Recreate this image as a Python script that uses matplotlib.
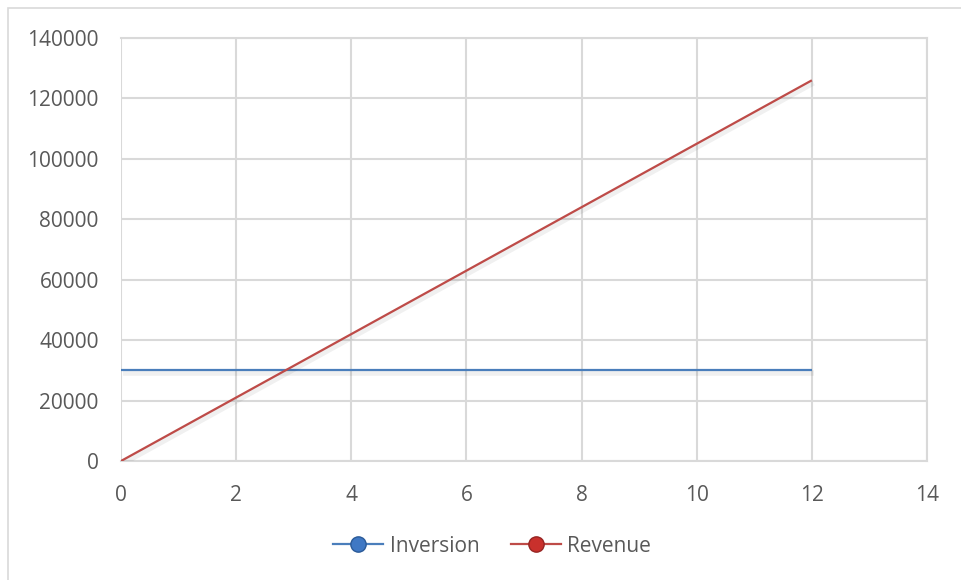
import matplotlib
matplotlib.use("Agg")
import matplotlib.pyplot as plt
from matplotlib.lines import Line2D
from matplotlib.patches import Rectangle
import matplotlib.patheffects as pe

months = [0, 1, 2, 3, 4, 5, 6, 7, 8, 9, 10, 11, 12]
inversion = [30000, 30000, 30000, 30000, 30000, 30000, 30000, 30000, 30000, 30000, 30000, 30000, 30000]
revenue = [0, 10500, 21000, 31500, 42000, 52500, 63000, 73500, 84000, 94500, 105000, 115500, 126000]
series_names = ["Inversion", "Revenue"]
x_ticks = [0, 2, 4, 6, 8, 10, 12, 14]
y_ticks = [0, 20000, 40000, 60000, 80000, 100000, 120000, 140000]

BLUE = "#4A7EBB"
RED = "#BE4B48"
GRID = "#D9D9D9"
TEXT = "#595959"

plt.rcParams['font.family'] = ['Open Sans', 'DejaVu Sans']

W, H = 961, 580
fig = plt.figure(figsize=(W / 100, H / 100), dpi=100)
fig.patch.set_facecolor("white")

left, right, top, bottom = 121, 927, 38, 461
ax = fig.add_axes([left / W, (H - bottom) / H, (right - left) / W, (bottom - top) / H])

shadow = [pe.SimpleLineShadow(offset=(1.2, -1.8), shadow_color="#000000", alpha=0.06, linewidth=4), pe.Normal()]
ax.plot(months, inversion, color=BLUE, lw=1.6, solid_capstyle="butt", path_effects=shadow, zorder=3)
ax.plot(months, revenue, color=RED, lw=1.6, solid_capstyle="butt", path_effects=shadow, zorder=4)

ax.set_xlim(0, 14)
ax.set_ylim(0, 140000)
ax.set_xticks(x_ticks)
ax.set_yticks(y_ticks)
ax.set_xticklabels([str(v) for v in x_ticks])
ax.set_yticklabels([str(v) for v in y_ticks])
ax.grid(True, color=GRID, lw=1.5)
ax.set_axisbelow(True)
for name, s in ax.spines.items():
    s.set_visible(name != 'left')
    s.set_color(GRID)
    s.set_linewidth(1.5)
ax.tick_params(axis='both', length=0, labelsize=15, labelcolor=TEXT)
ax.tick_params(axis='y', pad=16)
ax.tick_params(axis='x', pad=17)

# chart area border
fig.add_artist(Rectangle((8 / W, -0.5), 2, (H - 8) / H + 0.5, transform=fig.transFigure,
                         fill=False, edgecolor=GRID, lw=1.2))

handles = [
    Line2D([0], [0], color=BLUE, lw=1.6, marker='o', markersize=11,
           markerfacecolor="#3F78C4", markeredgecolor="#2A5A98"),
    Line2D([0], [0], color=RED, lw=1.6, marker='o', markersize=11,
           markerfacecolor="#C9302C", markeredgecolor="#962422"),
]
leg = fig.legend(handles, series_names, loc="center", bbox_to_anchor=(492 / W, 1 - 546 / H),
                 ncol=2, frameon=False, fontsize=15, handlelength=2.4, columnspacing=1.5,
                 handletextpad=0.3)
for t in leg.get_texts():
    t.set_color(TEXT)

fig.savefig("out.png", dpi=100)
